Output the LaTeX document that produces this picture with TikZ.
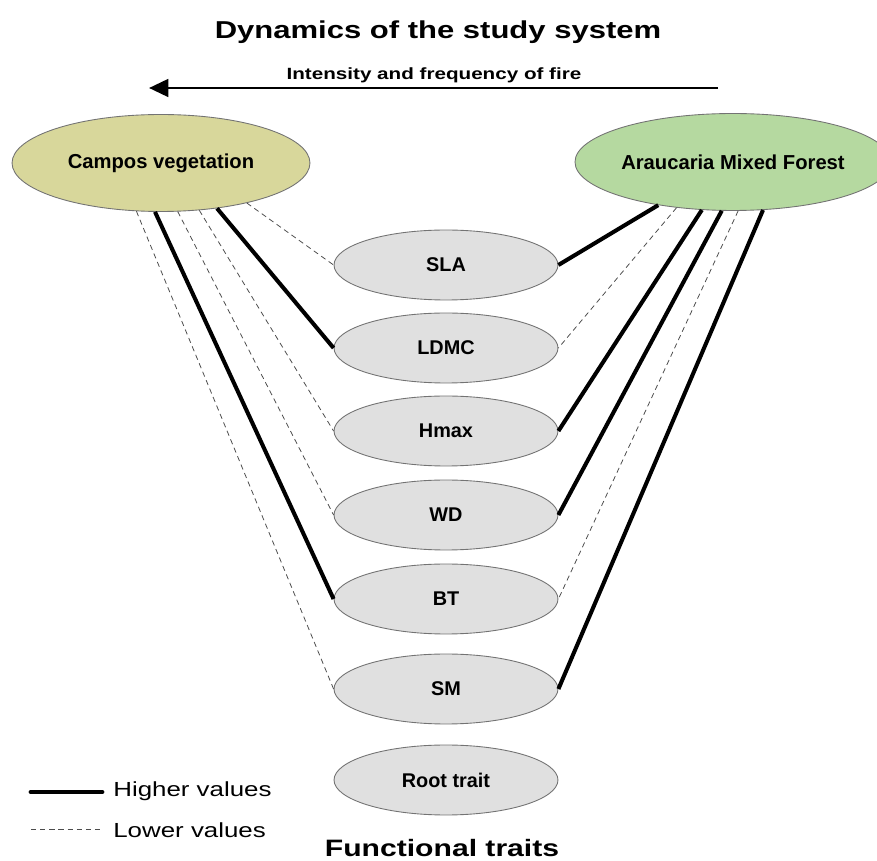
\documentclass[tikz,border=0pt]{standalone}
\usepackage{fontspec}
\setmainfont{Liberation Sans}[FakeStretch=1.27]
\newfontfamily\labelfont{Liberation Sans}
\usepackage{tikz}
\usetikzlibrary{shapes.geometric,arrows.meta}

\definecolor{camposfill}{HTML}{D8D79B}
\definecolor{forestfill}{HTML}{B5D9A0}
\definecolor{traitfill}{HTML}{E0E0E0}

\begin{document}
\begin{tikzpicture}[
    x=0.02cm, y=-0.02cm,
    habitat/.style={
        ellipse,
        draw=black!55,
        line width=0.5pt,
        inner sep=0pt,
        minimum height=1.94cm,
        font=\labelfont\fontsize{11.5}{13}\selectfont\bfseries
    },
    trait/.style={
        ellipse,
        draw=black!55,
        fill=traitfill,
        line width=0.5pt,
        inner sep=0pt,
        minimum width=4.48cm,
        minimum height=1.4cm,
        font=\labelfont\fontsize{11.3}{13}\selectfont\bfseries
    },
    hi/.style={line width=2.3pt},
    lo/.style={dash pattern=on 3pt off 2.2pt, line width=0.45pt, draw=black!70},
    legtext/.style={anchor=base west, inner sep=0pt, font=\fontsize{11.6}{14}\selectfont}
]
\useasboundingbox (0,0) rectangle (877,861);

% titles and fire gradient
\node[anchor=base, inner sep=0pt, font=\fontsize{13.9}{16}\selectfont\bfseries] (title) at (438,39) {Dynamics of the study system};
\node[anchor=base, inner sep=0pt, font=\fontsize{9.25}{11}\selectfont\bfseries] (fire) at (434,80) {Intensity and frequency of fire};
\coordinate (fireR) at (718,88);
\coordinate (fireL) at (149,88);
\draw[line width=1.7pt, -{Triangle[length=11pt,width=10pt]}] (fireR) -- (fireL);

% vegetation types
\node[habitat, fill=camposfill, minimum width=5.96cm] (cv) at (161,163) {Campos vegetation};
\node[habitat, fill=forestfill, minimum width=5.8cm] (amf) at (733,162) {Araucaria Mixed Forest};

% traits
\node[trait] (sla) at (446,265) {SLA};
\node[trait] (ldmc) at (446,348) {LDMC};
\node[trait] (hmax) at (446,431) {Hmax};
\node[trait] (wd) at (446,515) {WD};
\node[trait] (bt) at (446,599) {BT};
\node[trait] (sm) at (446,689) {SM};
\node[trait] (root) at (446,780) {Root trait};

% Campos vegetation
\draw[lo] (cv.-25) -- (sla.west);
\draw[hi] (cv.-39) -- (ldmc.west);
\draw[lo] (cv.-51) -- (hmax.west);
\draw[lo] (cv.-71) -- (wd.west);
\draw[hi] (cv.-97) -- (bt.west);
\draw[lo] (cv.-117) -- (sm.west);

% Araucaria Mixed Forest
\draw[hi] (amf.-150) -- (sla.east);
\draw[lo] (amf.-141) -- (ldmc.east);
\draw[hi] (amf.-123) -- (hmax.east);
\draw[hi] (amf.-103) -- (wd.east);
\draw[lo] (amf.-84) -- (bt.east);
\draw[hi] (amf.-58) -- (sm.east);

% legend
\coordinate (hiA) at (31,792);
\coordinate (hiB) at (102,792);
\draw[hi, line width=2.8pt, line cap=round] (hiA) -- (hiB);
\node[legtext] (hitext) at (113,797) {Higher values};
\coordinate (loA) at (31,829);
\coordinate (loB) at (102,829);
\draw[lo] (loA) -- (loB);
\node[legtext] (lotext) at (113,838) {Lower values};

\node[anchor=base, inner sep=0pt, font=\fontsize{13.5}{16}\selectfont\bfseries] (traits) at (442,857) {Functional traits};
\end{tikzpicture}
\end{document}
